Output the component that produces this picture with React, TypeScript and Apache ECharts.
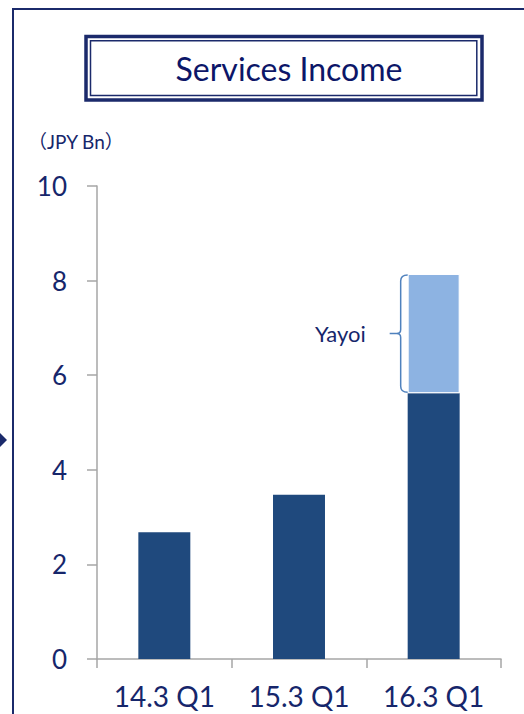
import React, { useEffect, useRef } from "react";
import * as echarts from "echarts";

const categories = ["14.3 Q1", "15.3 Q1", "16.3 Q1"];
const baseValues = [2.68, 3.47, 5.62];
const yayoiValues: (number | string)[] = ["-", "-", 2.52];
const yTicks = { min: 0, max: 10, interval: 2 };
const titleText = "Services Income";
const unitText = "（JPY Bn）";
const bracketLabel = "Yayoi";

const NAVY = "#16266b";
const FRAME = "#1b2a6b";
const DARK_BAR = "#1f497d";
const LIGHT_BAR = "#8db3e2";
const BRACKET = "#4f81bd";
const AXIS = "#a6a6a6";
const FONT = "Lato, 'Noto Sans CJK JP', 'Noto Sans', sans-serif";
const BAR_RATIO = 0.386;

export default function App() {
  const ref = useRef<HTMLDivElement>(null);
  useEffect(() => {
    if (!ref.current) return;
    const chart = echarts.init(ref.current, null, { renderer: "svg" });
    const bracketData = [[2, baseValues[2], baseValues[2] + (yayoiValues[2] as number)]];
    chart.setOption({
      animation: false,
      backgroundColor: "#fff",
      grid: { left: 97, right: 23, top: 186, bottom: 55 },
      xAxis: {
        type: "category",
        data: categories,
        axisLine: { show: true, lineStyle: { color: AXIS, width: 1.5 } },
        axisTick: { show: true, length: 9, lineStyle: { color: AXIS, width: 1.5 } },
        axisLabel: { color: NAVY, fontSize: 28, fontFamily: FONT, margin: 22, interval: 0, lineHeight: 30 },
      },
      yAxis: {
        type: "value",
        min: yTicks.min,
        max: yTicks.max,
        interval: yTicks.interval,
        axisLine: { show: true, lineStyle: { color: AXIS, width: 1.5 } },
        axisTick: { show: true, length: 10, lineStyle: { color: AXIS, width: 1.5 } },
        splitLine: { show: false },
        axisLabel: { color: NAVY, fontSize: 26, fontFamily: FONT, margin: 30 },
      },
      series: [
        {
          name: "Base",
          type: "bar",
          stack: "total",
          data: baseValues,
          barWidth: (BAR_RATIO * 100).toFixed(1) + "%",
          itemStyle: { color: DARK_BAR },
        },
        {
          name: "Yayoi",
          type: "bar",
          stack: "total",
          data: yayoiValues,
          barWidth: (BAR_RATIO * 100).toFixed(1) + "%",
          itemStyle: { color: LIGHT_BAR, borderColor: "#fff", borderWidth: 1 },
        },
        {
          name: "Bracket",
          type: "custom",
          coordinateSystem: "cartesian2d",
          data: bracketData,
          encode: { x: 0, y: 1 },
          z: 10,
          renderItem: (params: any, api: any) => {
            const lo = api.coord([api.value(0), api.value(1)]);
            const hi = api.coord([api.value(0), api.value(2)]);
            const catW = api.size([1, 0])[0];
            const barLeft = lo[0] - (catW * BAR_RATIO) / 2;
            const bx = barLeft - 7;
            const t = hi[1] + 1;
            const b = lo[1] - 1;
            const m = (t + b) / 2;
            const d =
              `M ${barLeft} ${t} Q ${bx} ${t} ${bx} ${t + 6} L ${bx} ${m - 4} Q ${bx} ${m} ${bx - 4} ${m} L ${bx - 11} ${m} ` +
              `M ${bx - 4} ${m} Q ${bx} ${m} ${bx} ${m + 4} L ${bx} ${b - 6} Q ${bx} ${b} ${barLeft} ${b}`;
            return {
              type: "group",
              children: [
                {
                  type: "path",
                  shape: { pathData: d },
                  style: { stroke: BRACKET, fill: "none", lineWidth: 1.5 },
                },
                {
                  type: "text",
                  style: {
                    text: bracketLabel,
                    x: bx - 35,
                    y: m,
                    align: "right",
                    verticalAlign: "middle",
                    fill: NAVY,
                    font: `22px ${FONT}`,
                  },
                },
              ],
            };
          },
        },
      ],
      graphic: [
        { type: "line", shape: { x1: 13, y1: 9, x2: 524, y2: 9 }, style: { stroke: FRAME, lineWidth: 2 } },
        { type: "line", shape: { x1: 13, y1: 8, x2: 13, y2: 714 }, style: { stroke: FRAME, lineWidth: 2 } },
        {
          type: "polygon",
          shape: { points: [[-1, 432], [7, 440], [-1, 448]] },
          style: { fill: FRAME },
        },
        {
          type: "rect",
          shape: { x: 86, y: 36.5, width: 396, height: 63.5 },
          style: { stroke: FRAME, lineWidth: 3.5, fill: "#fff" },
        },
        {
          type: "rect",
          shape: { x: 90.5, y: 40.7, width: 386.3, height: 54.8 },
          style: { stroke: FRAME, lineWidth: 1.5, fill: "none" },
        },
        {
          type: "text",
          x: 289,
          y: 68,
          style: {
            text: titleText,
            align: "center",
            verticalAlign: "middle",
            fill: "#0c1668",
            font: `32px ${FONT}`,
          },
        },
        {
          type: "text",
          x: 28,
          y: 141,
          style: {
            text: unitText,
            align: "left",
            verticalAlign: "middle",
            fill: NAVY,
            font: `19px ${FONT}`,
          },
        },
      ],
    });
    return () => chart.dispose();
  }, []);
  return (
    <div
      ref={ref}
      style={{ position: "fixed", left: 0, top: 0, width: 524, height: 714 }}
    />
  );
}
